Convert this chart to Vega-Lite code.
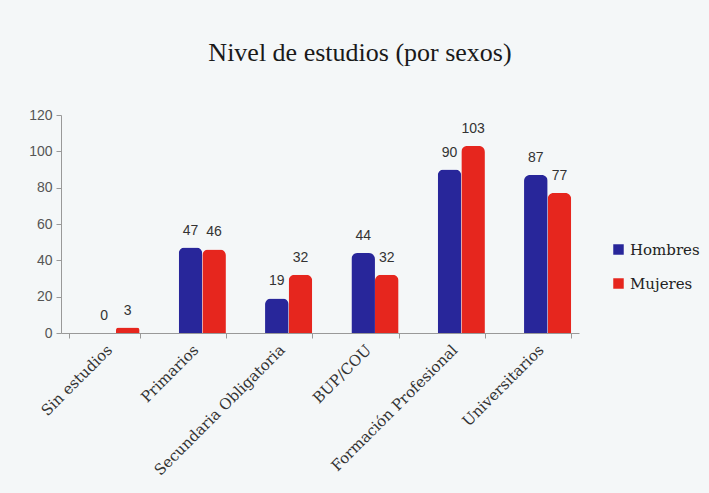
{
  "$schema": "https://vega.github.io/schema/vega-lite/v6.json",
  "autosize": {"type": "fit", "contains": "padding"},
  "width": 709,
  "height": 493,
  "padding": {"top": 40, "left": 28, "right": 130, "bottom": 15},
  "background": "#f4f7f8",
  "title": {
    "text": "Nivel de estudios (por sexos)",
    "font": "Liberation Serif",
    "fontSize": 26,
    "fontWeight": "normal",
    "color": "#1a1a1a",
    "offset": 42,
    "anchor": "middle",
    "dx": 40
  },
  "config": {
    "view": {"stroke": null},
    "axis": {"labelFont": "Liberation Sans", "labelColor": "#555555", "labelFontSize": 14}
  },
  "data": {
    "values": [
      {"nivel": "Sin estudios", "sexo": "Hombres", "valor": 0},
      {"nivel": "Sin estudios", "sexo": "Mujeres", "valor": 3},
      {"nivel": "Primarios", "sexo": "Hombres", "valor": 47},
      {"nivel": "Primarios", "sexo": "Mujeres", "valor": 46},
      {"nivel": "Secundaria Obligatoria", "sexo": "Hombres", "valor": 19},
      {"nivel": "Secundaria Obligatoria", "sexo": "Mujeres", "valor": 32},
      {"nivel": "BUP/COU", "sexo": "Hombres", "valor": 44},
      {"nivel": "BUP/COU", "sexo": "Mujeres", "valor": 32},
      {"nivel": "Formación Profesional", "sexo": "Hombres", "valor": 90},
      {"nivel": "Formación Profesional", "sexo": "Mujeres", "valor": 103},
      {"nivel": "Universitarios", "sexo": "Hombres", "valor": 87},
      {"nivel": "Universitarios", "sexo": "Mujeres", "valor": 77}
    ]
  },
  "encoding": {
    "x": {
      "field": "nivel",
      "type": "nominal",
      "sort": null,
      "title": null,
      "scale": {"paddingInner": 0.18, "paddingOuter": 0.09},
      "axis": {
        "labelAngle": -45,
        "labelFont": "DejaVu Serif",
        "labelFontSize": 15,
        "labelColor": "#333333",
        "domainColor": "#999999",
        "tickColor": "#999999",
        "tickBand": "extent",
        "tickSize": 5,
        "labelPadding": 4
      }
    },
    "xOffset": {"field": "sexo", "type": "nominal", "scale": {"domain": ["_", "Hombres", "Mujeres"]}},
    "y": {
      "field": "valor",
      "type": "quantitative",
      "title": null,
      "scale": {"domain": [0, 120]},
      "axis": {
        "values": [0, 20, 40, 60, 80, 100, 120],
        "grid": false,
        "domainColor": "#999999",
        "tickColor": "#999999",
        "tickSize": 5,
        "labelPadding": 4
      }
    }
  },
  "layer": [
    {
      "mark": {"type": "bar", "cornerRadiusTopLeft": 6, "cornerRadiusTopRight": 6},
      "encoding": {
        "color": {
          "field": "sexo",
          "type": "nominal",
          "scale": {"domain": ["Hombres", "Mujeres"], "range": ["#28269a", "#e6261e"]},
          "legend": {
            "title": null,
            "orient": "none",
            "legendX": 550,
            "legendY": 127,
            "labelFont": "DejaVu Serif",
            "labelFontSize": 15,
            "labelColor": "#222222",
            "symbolType": "square",
            "symbolSize": 110,
            "symbolStrokeWidth": 0,
            "rowPadding": 18,
            "padding": 0
          }
        }
      }
    },
    {
      "mark": {"type": "text", "dy": -17, "font": "Liberation Sans", "fontSize": 14, "color": "#333333"},
      "encoding": {"text": {"field": "valor", "type": "quantitative"}}
    }
  ]
}
